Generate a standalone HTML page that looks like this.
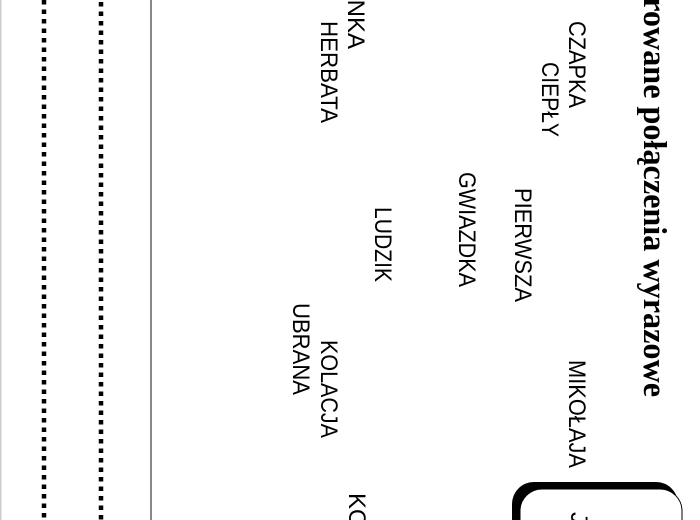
<!DOCTYPE html>
<html><head><meta charset="utf-8"><style>
html,body{margin:0;padding:0;background:#fff;width:700px;height:520px;overflow:hidden}
svg{display:block;overflow:hidden}
.w{font-family:"Liberation Sans",sans-serif;font-size:24px;fill:#000}
.t{font-family:"Liberation Serif",serif;font-size:33px;font-weight:bold;fill:#000}
</style></head><body>
<svg width="700" height="520" viewBox="0 0 700 520" xmlns="http://www.w3.org/2000/svg">
<rect x="0" y="0" width="1.5" height="520" fill="#ccc"/>
<line x1="44" y1="0" x2="44" y2="520" stroke="#000" stroke-width="4.5" stroke-dasharray="4.5 5"/>
<line x1="101" y1="2" x2="101" y2="520" stroke="#000" stroke-width="4.5" stroke-dasharray="4.5 5"/>
<rect x="150" y="0" width="2" height="520" fill="#888"/>

<text class="t" transform="translate(644,-94) rotate(90)" textLength="491" lengthAdjust="spacingAndGlyphs">Zaszyfrowane połączenia wyrazowe</text>

<text class="w" transform="translate(569,21) rotate(90)" textLength="87" lengthAdjust="spacingAndGlyphs">CZAPKA</text>
<text class="w" transform="translate(542,62) rotate(90)" textLength="75" lengthAdjust="spacingAndGlyphs">CIEPŁY</text>
<text class="w" transform="translate(348,49) rotate(90)" text-anchor="end">CHOINKA</text>
<text class="w" transform="translate(321,21) rotate(90)" textLength="102" lengthAdjust="spacingAndGlyphs">HERBATA</text>
<text class="w" transform="translate(515,188) rotate(90)" textLength="114" lengthAdjust="spacingAndGlyphs">PIERWSZA</text>
<text class="w" transform="translate(459,172) rotate(90)" textLength="115" lengthAdjust="spacingAndGlyphs">GWIAZDKA</text>
<text class="w" transform="translate(375,207) rotate(90)" textLength="75" lengthAdjust="spacingAndGlyphs">LUDZIK</text>
<text class="w" transform="translate(569,360) rotate(90)" textLength="108" lengthAdjust="spacingAndGlyphs">MIKOŁAJA</text>
<text class="w" transform="translate(321,340) rotate(90)" textLength="98" lengthAdjust="spacingAndGlyphs">KOLACJA</text>
<text class="w" transform="translate(293,303) rotate(90)" textLength="92" lengthAdjust="spacingAndGlyphs">UBRANA</text>
<text class="w" transform="translate(349,493) rotate(90)">KO</text>

<rect x="512" y="482" width="166" height="60" rx="22" fill="#000"/>
<rect x="520" y="489" width="162" height="60" rx="22" fill="#fff" stroke="#000" stroke-width="1"/>
<text class="w" transform="translate(571,512) rotate(90)">J</text>
</svg>
</body></html>
